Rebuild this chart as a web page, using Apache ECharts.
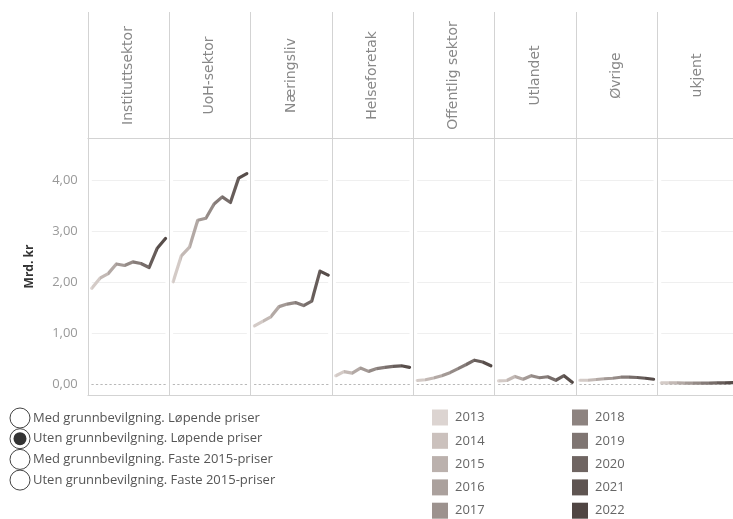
<!DOCTYPE html>
<html><head><meta charset="utf-8">
<script src="https://cdn.jsdelivr.net/npm/echarts@6/dist/echarts.min.js"></script>
<style>html,body{margin:0;padding:0;background:#fff}#c{width:733px;height:519px}</style>
</head><body><div id="c"></div>
<script>
// ---- data ----
const years = ['2013','2014','2015','2016','2017','2018','2019','2020','2021','2022'];
const yearColors = ['#dcd4d1','#cbc1bd','#bbb1ad','#aba19d','#9c928e','#8d8380','#7f7572','#6f6562','#5f5552','#4f4542'];
const sectors = ['Instituttsektor','UoH-sektor','Næringsliv','Helseforetak','Offentlig sektor','Utlandet','Øvrige','ukjent'];
const instituttsektor = [1.88,2.08,2.17,2.36,2.33,2.40,2.37,2.29,2.67,2.86];
const uohSektor       = [2.01,2.52,2.69,3.22,3.26,3.54,3.68,3.57,4.05,4.14];
const naeringsliv     = [1.14,1.23,1.32,1.52,1.57,1.60,1.54,1.63,2.22,2.14];
const helseforetak    = [0.16,0.24,0.21,0.31,0.245,0.30,0.325,0.345,0.355,0.325];
const offentligSektor = [0.066,0.08,0.115,0.16,0.22,0.30,0.38,0.465,0.43,0.355];
const utlandet        = [0.06,0.066,0.145,0.09,0.16,0.12,0.14,0.07,0.16,0.03];
const ovrige          = [0.07,0.07,0.085,0.10,0.11,0.13,0.13,0.125,0.11,0.09];
const ukjent          = [0.02,0.02,0.02,0.015,0.015,0.015,0.015,0.02,0.02,0.025];
const sectorValues = [instituttsektor,uohSektor,naeringsliv,helseforetak,offentligSektor,utlandet,ovrige,ukjent];
const yTickValues = [0,1,2,3,4];
const yGridValues = [1,2,3,4];
const priceOptions = ['Med grunnbevilgning. Løpende priser','Uten grunnbevilgning. Løpende priser','Med grunnbevilgning. Faste 2015-priser','Uten grunnbevilgning. Faste 2015-priser'];
const selectedOption = 1;

// ---- layout ----
const FONT = 'Open Sans';
const HEAD_FONT = 'DejaVu Sans';
const L = 87.5, W = 81.35, HEAD_TOP = 12, HEAD_BOT = 138, PLOT_BOT = 395, RIGHT = 733;
const INSET_L = 4.3, INSET_R = 3.4;
const Y_MIN = -0.22, Y_MAX = 4.84;

const grids = [], xAxes = [], yAxes = [], series = [], graphics = [];
sectors.forEach((name, i) => {
  const left = L + i * W;
  grids.push({left: left + INSET_L, width: W - INSET_L - INSET_R, top: HEAD_BOT, height: PLOT_BOT - HEAD_BOT, containLabel: false});
  xAxes.push({gridIndex: i, type: 'category', data: years, boundaryGap: false,
    axisLabel: {show: false}, axisTick: {show: false}, splitLine: {show: false},
    axisLine: {show: true, onZero: true, lineStyle: {color: '#b8b8b8', type: [1.5, 3], width: 1}}});
  yAxes.push({gridIndex: i, type: 'value', min: Y_MIN, max: Y_MAX,
    name: i === 0 ? 'Mrd. kr' : '', nameLocation: 'middle', nameGap: 56,
    nameTextStyle: {color: '#333', fontWeight: 'bold', fontSize: 12, fontFamily: FONT},
    axisLine: {show: false}, axisTick: {show: false, customValues: yGridValues},
    axisLabel: {show: i === 0, customValues: yTickValues, margin: 14, color: '#999', fontSize: 13, fontFamily: FONT,
      formatter: v => v.toFixed(2).replace('.', ',')},
    splitLine: {show: true, lineStyle: {color: '#efefef', width: 1}}});
  series.push({type: 'line', name: name, xAxisIndex: i, yAxisIndex: i, data: sectorValues[i],
    symbol: 'none', clip: false, silent: true, lineStyle: {width: 3.2, cap: 'round', join: 'round'}});
  // header label
  graphics.push({type: 'text', x: left + W / 2, y: (HEAD_TOP + HEAD_BOT) / 2 + 0.5, rotation: Math.PI / 2,
    style: {text: name, fill: '#888', font: '14px "' + HEAD_FONT + '"', align: 'center', verticalAlign: 'middle'}});
});
// frame lines
for (let i = 0; i <= sectors.length; i++) {
  const x = Math.round(L + i * W) + 0.5;
  graphics.push({type: 'line', shape: {x1: x, y1: HEAD_TOP, x2: x, y2: PLOT_BOT}, style: {stroke: '#d3d3d3', lineWidth: 1}});
}
[HEAD_BOT, PLOT_BOT].forEach(y => graphics.push({type: 'line', shape: {x1: L, y1: y + 0.5, x2: RIGHT, y2: y + 0.5}, style: {stroke: '#d3d3d3', lineWidth: 1}}));

// radio legend
priceOptions.forEach((t, k) => {
  const cy = 418 + k * 20.7;
  graphics.push({type: 'circle', shape: {cx: 20, cy: cy, r: 10}, style: {fill: '#fff', stroke: '#444', lineWidth: 1}});
  if (k === selectedOption) graphics.push({type: 'circle', shape: {cx: 20, cy: cy, r: 6.5}, style: {fill: '#333'}});
  graphics.push({type: 'text', x: 33, y: cy, style: {text: t, fill: '#555', font: '13px "' + FONT + '"', verticalAlign: 'middle'}});
});
// year legend
years.forEach((y, k) => {
  const col = Math.floor(k / 5), row = k % 5;
  const sx = 432 + col * 140, cy = 417.5 + row * 23.3;
  graphics.push({type: 'rect', shape: {x: sx, y: cy - 8, width: 16, height: 16}, style: {fill: yearColors[k]}});
  graphics.push({type: 'text', x: sx + 23, y: cy, style: {text: y, fill: '#666', font: '13px "' + FONT + '"', verticalAlign: 'middle'}});
});

const chart = echarts.init(document.getElementById('c'), null, {renderer: 'canvas'});
chart.setOption({
  animation: false,
  backgroundColor: '#fff',
  grid: grids, xAxis: xAxes, yAxis: yAxes, series: series,
  visualMap: {type: 'continuous', show: false, dimension: 0, min: 0, max: 9,
    seriesIndex: series.map((s, i) => i), inRange: {color: yearColors}},
  graphic: graphics
});
</script></body></html>
